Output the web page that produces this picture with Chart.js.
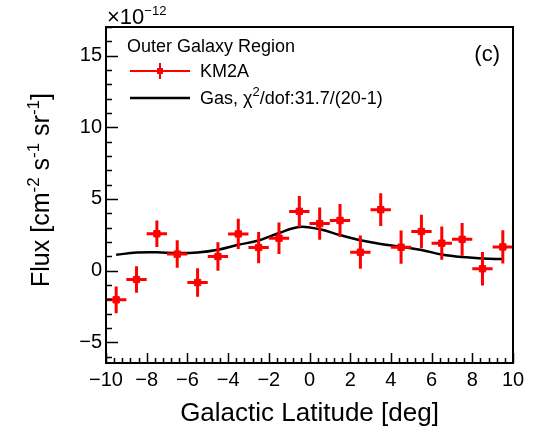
<!DOCTYPE html>
<html>
<head>
<meta charset="utf-8">
<title>Outer Galaxy Region flux</title>
<script src="https://cdn.jsdelivr.net/npm/chart.js@4.4.0/dist/chart.umd.min.js"></script>
<style>
  body { margin: 0; background: #fff; }
  canvas { display: block; }
</style>
</head>
<body>
<canvas id="fluxChart" width="538" height="436"></canvas>
<script>
// galactic latitude bin centres (deg), 1 deg bins
const latitude = [-9.5, -8.5, -7.5, -6.5, -5.5, -4.5, -3.5, -2.5, -1.5, -0.5, 0.5, 1.5, 2.5, 3.5, 4.5, 5.5, 6.5, 7.5, 8.5, 9.5];
const latHalfWidth = 0.5;
// KM2A flux, units of 1e-12 cm^-2 s^-1 sr^-1
const km2aFlux = [-2.04, -0.62, 2.57, 1.15, -0.83, 0.98, 2.56, 1.61, 2.26, 4.13, 3.28, 3.50, 1.28, 4.25, 1.63, 2.73, 1.91, 2.18, 0.13, 1.65];
const km2aErr = [0.93, 0.93, 0.93, 0.96, 0.99, 0.99, 1.05, 1.09, 1.10, 1.08, 1.13, 1.15, 1.16, 1.14, 1.16, 1.17, 1.16, 1.14, 1.17, 1.16];
// gas template prediction
const gasFlux = [1.10, 1.26, 1.28, 1.22, 1.26, 1.45, 1.80, 2.10, 2.62, 3.05, 2.88, 2.48, 2.12, 1.86, 1.67, 1.44, 1.12, 0.94, 0.85, 0.80];

const xTickValues = [-10, -8, -6, -4, -2, 0, 2, 4, 6, 8, 10];
const yTickValues = [-5, 0, 5, 10, 15];

const regionName = 'Outer Galaxy Region';
const panelTag = '(c)';
const km2aLabel = 'KM2A';
const gasLabel = [['Gas, \u03c7', false], ['2', true], ['/dof:31.7/(20-1)', false]];
const yTitle = [['Flux [cm', false], ['-2', true], [' s', false], ['-1', true], [' sr', false], ['-1', true], [']', false]];
const yExponent = [['\u00d710', false], ['\u221212', true]];

const FONT = '"Liberation Sans", Arial, Helvetica, sans-serif';
const RED = '#ff0000';

// text with raised superscript parts
function richWidth(ctx, parts, size, supSize) {
    let w = 0;
    for (const [t, sup] of parts) {
        ctx.font = (sup ? supSize : size) + 'px ' + FONT;
        w += ctx.measureText(t).width;
    }
    return w;
}
function drawRich(ctx, parts, x, y, size, supSize, rise) {
    ctx.textBaseline = 'alphabetic';
    ctx.textAlign = 'left';
    for (const [t, sup] of parts) {
        ctx.font = (sup ? supSize : size) + 'px ' + FONT;
        ctx.fillText(t, x, sup ? y - rise : y);
        x += ctx.measureText(t).width;
    }
}

function fmt(v) {
    return v < 0 ? '\u2212' + Math.abs(v) : String(v);
}

const errorBars = {
    id: 'errorBars',
    beforeDatasetDraw(chart, args) {
        if (args.index !== 0) return;
        const { ctx, scales: { x, y } } = chart;
        ctx.save();
        ctx.strokeStyle = RED;
        ctx.lineWidth = 3;
        latitude.forEach((lat, i) => {
            const px = x.getPixelForValue(lat);
            const py = y.getPixelForValue(km2aFlux[i]);
            ctx.beginPath();
            ctx.moveTo(x.getPixelForValue(lat - latHalfWidth), py);
            ctx.lineTo(x.getPixelForValue(lat + latHalfWidth), py);
            ctx.moveTo(px, y.getPixelForValue(km2aFlux[i] - km2aErr[i]));
            ctx.lineTo(px, y.getPixelForValue(km2aFlux[i] + km2aErr[i]));
            ctx.stroke();
        });
        ctx.restore();
    }
};

// frame with inward ticks, like a ROOT pad
const frame = {
    id: 'frame',
    afterDraw(chart) {
        const { ctx, chartArea: a, scales: { x, y } } = chart;
        ctx.save();
        ctx.strokeStyle = '#000';
        ctx.lineWidth = 1.5;
        ctx.beginPath();
        for (let v = Math.ceil(y.min); v <= y.max; v += 1) {
            const py = Math.round(y.getPixelForValue(v)) + 0.5;
            const len = v % 5 === 0 ? 12 : 6;
            ctx.moveTo(a.left, py);
            ctx.lineTo(a.left + len, py);
        }
        for (let k = 0; k <= 50; k++) {
            const v = x.min + k * 0.4;
            const px = Math.round(x.getPixelForValue(v)) + 0.5;
            const len = k % 5 === 0 ? 10 : 5;
            ctx.moveTo(px, a.bottom);
            ctx.lineTo(px, a.bottom - len);
        }
        ctx.stroke();
        ctx.lineWidth = 2;
        ctx.strokeRect(a.left, a.top, a.right - a.left, a.bottom - a.top);

        ctx.fillStyle = '#000';
        // exponent above the y axis
        drawRich(ctx, yExponent, a.left + 1, a.top - 3, 22, 13, 9);

        // rotated y title
        ctx.save();
        const w = richWidth(ctx, yTitle, 25, 17);
        ctx.translate(49, (a.top + a.bottom) / 2 - 5);
        ctx.rotate(-Math.PI / 2);
        drawRich(ctx, yTitle, -w / 2, 0, 25, 17, 10);
        ctx.restore();

        // legend block
        ctx.font = '18px ' + FONT;
        ctx.fillText(regionName, a.left + 21, a.top + 25);
        ctx.font = '22px ' + FONT;
        ctx.textAlign = 'right';
        ctx.fillText(panelTag, a.right - 13, a.top + 34);
        ctx.textAlign = 'left';

        ctx.strokeStyle = RED;
        ctx.lineWidth = 2;
        ctx.beginPath();
        ctx.moveTo(a.left + 24, a.top + 44);
        ctx.lineTo(a.left + 84, a.top + 44);
        ctx.moveTo(a.left + 54, a.top + 36);
        ctx.lineTo(a.left + 54, a.top + 52);
        ctx.stroke();
        ctx.fillStyle = RED;
        ctx.fillRect(a.left + 51, a.top + 41, 6, 6);
        ctx.fillStyle = '#000';
        ctx.font = '18px ' + FONT;
        ctx.fillText(km2aLabel, a.left + 94, a.top + 50);

        ctx.strokeStyle = '#000';
        ctx.lineWidth = 2.5;
        ctx.beginPath();
        ctx.moveTo(a.left + 24, a.top + 71);
        ctx.lineTo(a.left + 84, a.top + 71);
        ctx.stroke();
        drawRich(ctx, gasLabel, a.left + 94, a.top + 77, 18, 13, 8);
        ctx.restore();
    }
};

new Chart(document.getElementById('fluxChart'), {
    type: 'scatter',
    data: {
        datasets: [
            {
                label: km2aLabel,
                data: latitude.map((lat, i) => ({ x: lat, y: km2aFlux[i] })),
                pointStyle: 'rect',
                pointRadius: 4.5,
                pointBackgroundColor: RED,
                pointBorderColor: RED,
                pointBorderWidth: 1,
                showLine: false,
                order: 1
            },
            {
                label: 'Gas',
                data: latitude.map((lat, i) => ({ x: lat, y: gasFlux[i] })),
                showLine: true,
                borderColor: '#000',
                borderWidth: 2.5,
                tension: 0.4,
                pointRadius: 0,
                order: 2
            }
        ]
    },
    options: {
        responsive: false,
        animation: false,
        layout: { padding: { left: 0, top: 27, right: 25, bottom: 0 } },
        plugins: {
            legend: { display: false },
            tooltip: { enabled: false }
        },
        scales: {
            x: {
                type: 'linear',
                min: -10,
                max: 10,
                afterBuildTicks: s => { s.ticks = xTickValues.map(v => ({ value: v })); },
                afterFit: s => { s.height = 73; },
                grid: { display: false, drawTicks: false },
                border: { display: false },
                ticks: {
                    color: '#000',
                    padding: 5,
                    maxRotation: 0,
                    autoSkip: false,
                    font: { family: FONT, size: 20 },
                    callback: v => fmt(v)
                },
                title: {
                    display: true,
                    text: 'Galactic Latitude [deg]',
                    color: '#000',
                    font: { family: FONT, size: 26, lineHeight: 1 },
                    padding: { top: 0, bottom: 9 }
                }
            },
            y: {
                type: 'linear',
                min: -6.45,
                max: 17.0,
                afterBuildTicks: s => { s.ticks = yTickValues.map(v => ({ value: v })); },
                afterFit: s => { s.width = 106; },
                grid: { display: false, drawTicks: false },
                border: { display: false },
                ticks: {
                    color: '#000',
                    padding: 4,
                    autoSkip: false,
                    font: { family: FONT, size: 20 },
                    callback: v => fmt(v)
                }
            }
        }
    },
    plugins: [errorBars, frame]
});
</script>
</body>
</html>
